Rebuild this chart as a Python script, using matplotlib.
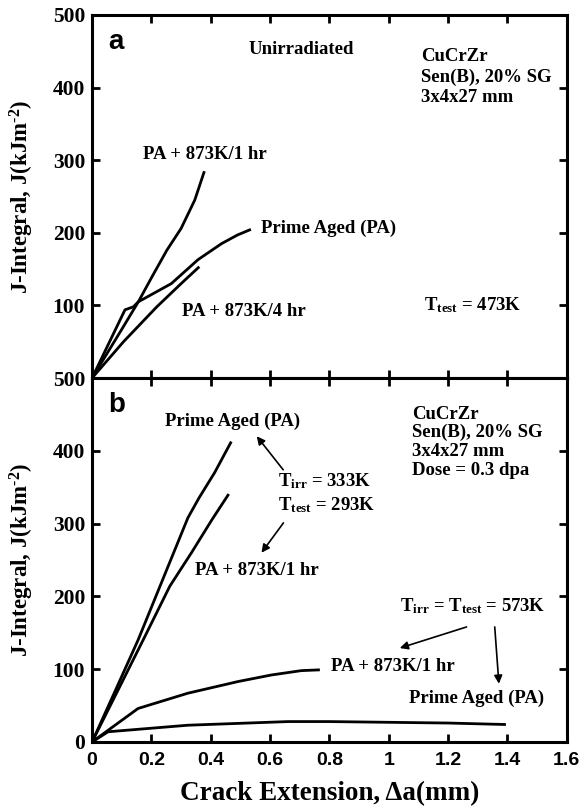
import matplotlib
matplotlib.use("Agg")
import matplotlib.pyplot as plt

plt.rcParams['mathtext.fontset'] = 'custom'
plt.rcParams['mathtext.rm'] = 'Liberation Serif:bold'
plt.rcParams['mathtext.it'] = 'Liberation Serif:bold'
plt.rcParams['mathtext.bf'] = 'Liberation Serif:bold'

# ---------------- data ----------------
x_ticks = [0, 0.2, 0.4, 0.6, 0.8, 1.0, 1.2, 1.4, 1.6]
x_tick_labels = ['0', '0.2', '0.4', '0.6', '0.8', '1', '1.2', '1.4', '1.6']
y_ticks = [0, 100, 200, 300, 400, 500]
y_tick_labels_a = ['500', '100', '200', '300', '400', '500']
y_tick_labels_b = ['0', '100', '200', '300', '400', '500']

# panel (a) unirradiated, Ttest = 473K
a_pa873_1h_x = [0, 0.10, 0.156, 0.20, 0.252, 0.30, 0.346, 0.377]
a_pa873_1h_y = [0, 67, 105, 138, 176, 206, 245, 283]
a_pa_x = [0, 0.111, 0.139, 0.156, 0.267, 0.357, 0.436, 0.49, 0.531]
a_pa_y = [0, 94, 98, 105, 130, 163, 185, 197, 204]
a_pa873_4h_x = [0, 0.106, 0.218, 0.30, 0.358]
a_pa873_4h_y = [0, 50, 98, 130, 152]

# panel (b) irradiated, dose 0.3 dpa
b_pa_293_x = [0, 0.08, 0.155, 0.22, 0.28, 0.323, 0.36, 0.413, 0.467]
b_pa_293_y = [0, 72, 140, 205, 265, 308, 335, 370, 411]
b_pa873_293_x = [0, 0.172, 0.217, 0.262, 0.335, 0.405, 0.458]
b_pa873_293_y = [0, 140, 177, 214, 260, 306, 339]
b_pa873_573_x = [0, 0.155, 0.323, 0.492, 0.604, 0.705, 0.763]
b_pa873_573_y = [0, 46, 67, 83, 92, 98, 99]
b_pa_573_x = [0, 0.054, 0.323, 0.66, 0.80, 1.0, 1.2, 1.39]
b_pa_573_y = [0, 14, 23, 28, 28, 27, 26, 24]

# ---------------- figure ----------------
fig = plt.figure(figsize=(5.79, 8.10), dpi=100)
L, W = 0.159, 0.820
ax_a = fig.add_axes([L, 0.5333, W, 0.4482])
ax_b = fig.add_axes([L, 0.0840, W, 0.4493])

serif = 'Liberation Serif'
sans = 'Liberation Sans'
lw = 2.0

for ax in (ax_a, ax_b):
    ax.set_xlim(0, 1.6)
    ax.set_ylim(0, 500)
    ax.set_xticks(x_ticks)
    ax.set_yticks(y_ticks)
    for s in ax.spines.values():
        s.set_linewidth(2.2)
    ax.tick_params(direction='in', length=6, width=2.0, top=True, right=True)

ax_a.set_xticklabels([])
ax_a.set_yticklabels(y_tick_labels_a, fontfamily=serif, fontweight='bold', fontsize=15.5)
ax_a.get_yticklabels()[0].set_visible(False)
ax_b.set_xticklabels(x_tick_labels, fontfamily=sans, fontweight='bold', fontsize=14)
ax_b.set_yticklabels(y_tick_labels_b, fontfamily=serif, fontweight='bold', fontsize=15.5)
ax_b.tick_params(axis='x', pad=7)
ax_a.tick_params(axis='y', pad=5)
ax_b.tick_params(axis='y', pad=5)

ylab = r'J-Integral, J(kJm$^{\text{-}2}$)'
for ax in (ax_a, ax_b):
    ax.set_ylabel(ylab, fontfamily=serif, fontweight='bold', fontsize=16.5)
    ax.yaxis.set_label_coords(-0.118, 0.5)
ax_b.set_xlabel('Crack Extension, \u0394a(mm)', fontfamily=serif, fontweight='bold',
                fontsize=19.5, labelpad=9)

# curves
ax_a.plot(a_pa873_1h_x, a_pa873_1h_y, 'k-', lw=lw)
ax_a.plot(a_pa_x, a_pa_y, 'k-', lw=lw)
ax_a.plot(a_pa873_4h_x, a_pa873_4h_y, 'k-', lw=lw)

ax_b.plot(b_pa_293_x, b_pa_293_y, 'k-', lw=lw)
ax_b.plot(b_pa873_293_x, b_pa873_293_y, 'k-', lw=lw)
ax_b.plot(b_pa873_573_x, b_pa873_573_y, 'k-', lw=lw)
ax_b.plot(b_pa_573_x, b_pa_573_y, 'k-', lw=lw)

tkw = dict(fontfamily=serif, fontweight='bold', fontsize=13.5, color='k')

# panel a texts
ax_a.text(0.034, 0.926, 'a', transform=ax_a.transAxes, fontfamily=sans,
          fontweight='bold', fontsize=20, va='center', ha='left')
ax_a.text(0.705, 452, 'Unirradiated', ha='center', va='center', **tkw)
ax_a.text(1.109, 414, 'CuCrZr\nSen(B), 20% SG\n3x4x27 mm', ha='left', va='center',
          linespacing=1.25, **tkw)
ax_a.text(0.381, 308, 'PA + 873K/1 hr', ha='center', va='center', **tkw)
ax_a.text(0.797, 206, 'Prime Aged (PA)', ha='center', va='center', **tkw)
ax_a.text(0.512, 91, 'PA + 873K/4 hr', ha='center', va='center', **tkw)
ax_a.text(1.284, 100, r'T$_{\rm test}$ = 473K', ha='center', va='center', **tkw)

# panel b texts
ax_b.text(0.034, 0.926, 'b', transform=ax_b.transAxes, fontfamily=sans,
          fontweight='bold', fontsize=20, va='center', ha='left')
ax_b.text(0.475, 441, 'Prime Aged (PA)', ha='center', va='center', **tkw)
ax_b.text(0.626, 358, r'T$_{\rm irr}$ = 333K', ha='left', va='center', **tkw)
ax_b.text(0.626, 326, r'T$_{\rm test}$ = 293K', ha='left', va='center', **tkw)
ax_b.text(0.557, 236, 'PA + 873K/1 hr', ha='center', va='center', **tkw)
ax_b.text(1.077, 412, 'CuCrZr\nSen(B), 20% SG\n3x4x27 mm\nDose = 0.3 dpa', ha='left',
          va='center', linespacing=1.12, **tkw)
ax_b.text(1.281, 186, r'T$_{\rm irr}$ = T$_{\rm test}$ = 573K', ha='center', va='center', **tkw)
ax_b.text(1.015, 103, 'PA + 873K/1 hr', ha='center', va='center', **tkw)
ax_b.text(1.296, 60, 'Prime Aged (PA)', ha='center', va='center', **tkw)

akw = dict(arrowstyle='-|>', color='k', lw=1.2, mutation_scale=12, shrinkA=0, shrinkB=0)
ax_b.annotate('', xy=(0.555, 420), xytext=(0.644, 374), arrowprops=akw)
ax_b.annotate('', xy=(0.571, 260), xytext=(0.645, 301), arrowprops=akw)
ax_b.annotate('', xy=(1.037, 129), xytext=(1.262, 158), arrowprops=akw)
ax_b.annotate('', xy=(1.371, 80), xytext=(1.357, 158), arrowprops=akw)

fig.savefig('out.png', dpi=100)
